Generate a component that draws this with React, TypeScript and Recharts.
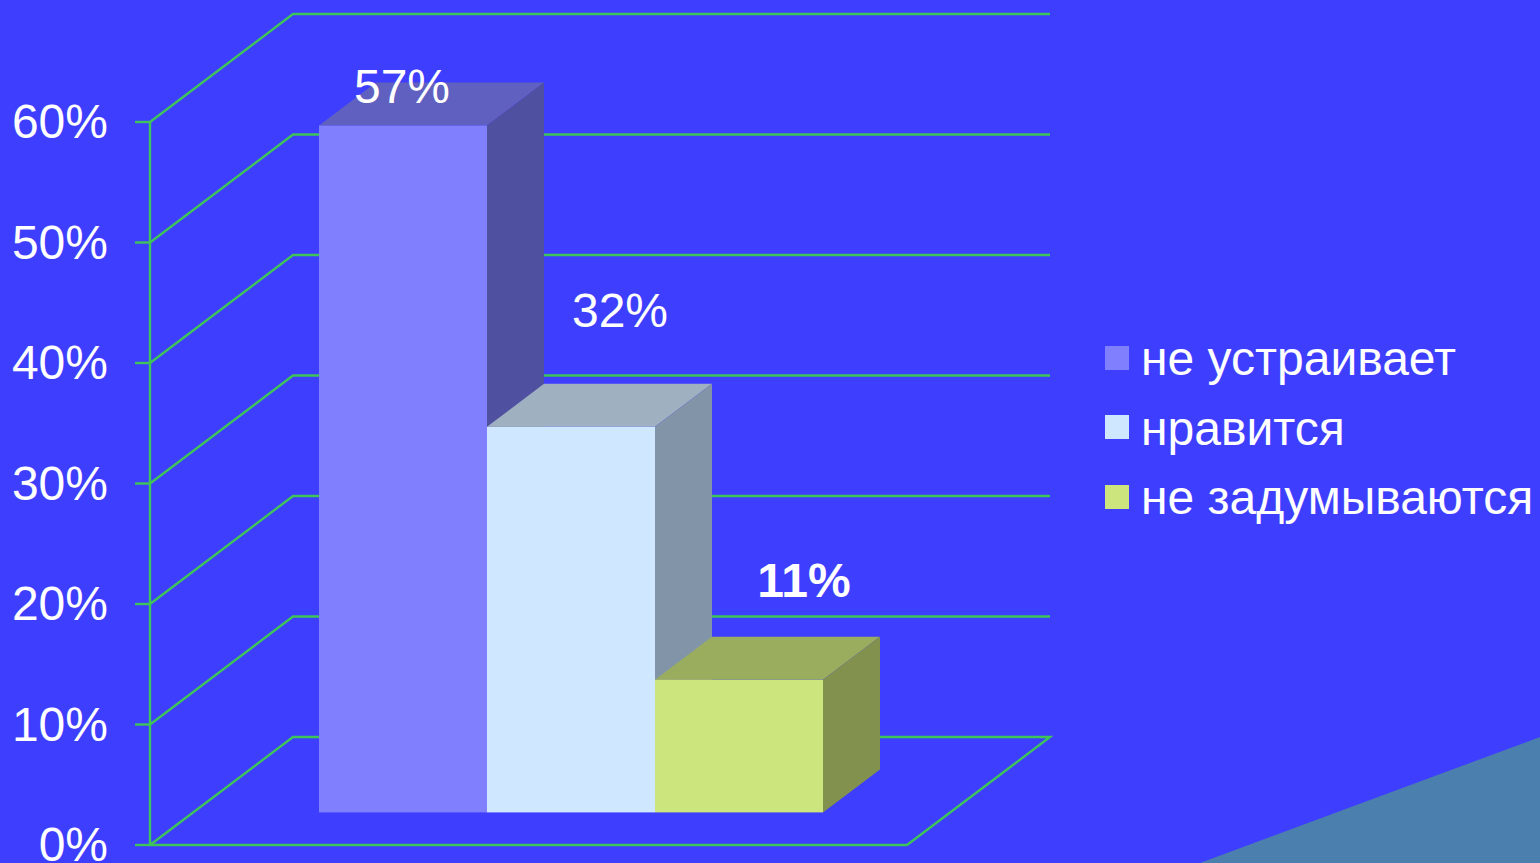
import React from 'react';
import { BarChart, Bar, XAxis, YAxis, CartesianGrid, Legend, LabelList } from 'recharts';

const WIDTH = 1540;
const HEIGHT = 863;
const MARGIN = { top: 122, right: 633, bottom: 17, left: 0 };
const X_AXIS_HEIGHT = 1;
const PLOT_BOTTOM = HEIGHT - MARGIN.bottom - X_AXIS_HEIGHT;

const categories = ['Отношение'];
const notSatisfied = [57];
const likes = [32];
const notThinking = [11];
const yTicks = [0, 10, 20, 30, 40, 50, 60];

const data = categories.map((name, i) => ({
    name,
    notSatisfied: notSatisfied[i],
    likes: likes[i],
    notThinking: notThinking[i],
}));

const FONT = '"Liberation Sans", Arial, sans-serif';
const GRID_COLOR = '#3fc45a';
const GRID_WIDTH = 2.4;

// depth of the chart box, and where a bar stands inside it
const WALL_DX = 143;
const WALL_DY = -108;
const BAR_DX = 43;
const BAR_DY = -32.6;
const BAR_DEPTH_X = 57;
const BAR_DEPTH_Y = -43;

const Box3D = (props: any) => {
    const { x, y, width, height, fill, topFill, sideFill } = props;
    const left = x + BAR_DX;
    const right = left + width;
    const top = y + BAR_DY;
    const bottom = top + height;
    const bx = BAR_DEPTH_X;
    const by = BAR_DEPTH_Y;
    return (
        <g>
            <polygon points={`${left},${top} ${right},${top} ${right + bx},${top + by} ${left + bx},${top + by}`} fill={topFill} />
            <polygon points={`${right},${top} ${right + bx},${top + by} ${right + bx},${bottom + by} ${right},${bottom}`} fill={sideFill} />
            <rect x={left} y={top} width={width} height={height} fill={fill} />
        </g>
    );
};

// value labels sit freely above the boxes, each with its own offset
const valueLabel = (offsetX: number, offsetY: number, bold = false) => (props: any) => {
    const { x, y, width, value } = props;
    return (
        <text
            x={x + BAR_DX + width / 2 + offsetX}
            y={y + BAR_DY + offsetY}
            fill="#ffffff"
            fontFamily={FONT}
            fontSize={48}
            fontWeight={bold ? 700 : 400}
            textAnchor="middle"
            dominantBaseline="central"
        >
            {value}%
        </text>
    );
};

// each horizontal gridline runs up the side wall and then along the back wall;
// the lowest one also closes the floor on the right
const wallLine = (props: any) => {
    const { x1, x2, y1 } = props;
    const isFloor = y1 >= PLOT_BOTTOM - 1;
    const backY = y1 + WALL_DY;
    return (
        <path
            key={`wall-${y1}`}
            d={
                `M${x1},${y1} L${x1 + WALL_DX},${backY} L${x2 + WALL_DX},${backY}` +
                (isFloor ? ` L${x2},${y1}` : '')
            }
            fill="none"
            stroke={GRID_COLOR}
            strokeWidth={GRID_WIDTH}
        />
    );
};

const LegendList = ({ payload }: any) => (
    <div>
        {(payload || []).map((entry: any) => (
            <div key={entry.value} style={{ display: 'flex', alignItems: 'center', height: 69.5 }}>
                <span style={{ width: 24, height: 24, marginRight: 12, background: entry.color, display: 'block' }} />
                <span style={{ color: '#ffffff', fontFamily: FONT, fontSize: 48, whiteSpace: 'nowrap', position: 'relative', top: 1 }}>
                    {entry.value}
                </span>
            </div>
        ))}
    </div>
);

export default function App() {
    return (
        <div style={{ position: 'absolute', left: 0, top: 0, width: WIDTH, height: HEIGHT, overflow: 'hidden', background: '#3e3eff' }}>
            <div
                style={{
                    position: 'absolute',
                    inset: 0,
                    background: '#4a7fae',
                    clipPath: 'polygon(1200px 863px, 1540px 737px, 1540px 863px)',
                }}
            />
            <BarChart
                width={WIDTH}
                height={HEIGHT}
                data={data}
                margin={MARGIN}
                barCategoryGap={126}
                barGap={0}
                style={{ position: 'absolute', left: 0, top: 0 }}
            >
                <CartesianGrid vertical={false} horizontal={wallLine} stroke={GRID_COLOR} />
                <XAxis
                    dataKey="name"
                    height={X_AXIS_HEIGHT}
                    tick={false}
                    tickLine={false}
                    axisLine={{ stroke: GRID_COLOR, strokeWidth: GRID_WIDTH }}
                />
                <YAxis
                    width={150}
                    domain={[0, 60]}
                    ticks={yTicks}
                    interval={0}
                    tickFormatter={(v) => `${v}%`}
                    tickSize={15}
                    tickMargin={27}
                    axisLine={{ stroke: GRID_COLOR, strokeWidth: GRID_WIDTH }}
                    tickLine={{ stroke: GRID_COLOR, strokeWidth: GRID_WIDTH }}
                    tick={{ fill: '#ffffff', fontFamily: FONT, fontSize: 48, dy: -1 }}
                />
                <Legend
                    layout="vertical"
                    align="center"
                    verticalAlign="middle"
                    itemSorter={null}
                    content={<LegendList />}
                    wrapperStyle={{ position: 'absolute', left: 1105, top: 323, width: 435 }}
                />
                <Bar
                    dataKey="notSatisfied"
                    name="не устраивает"
                    fill="#8080ff"
                    isAnimationActive={false}
                    shape={<Box3D topFill="#6060c0" sideFill="#5050a0" />}
                >
                    <LabelList dataKey="notSatisfied" content={valueLabel(-1, -39)} />
                </Bar>
                <Bar
                    dataKey="likes"
                    name="нравится"
                    fill="#cfe7ff"
                    isAnimationActive={false}
                    shape={<Box3D topFill="#9fb0c1" sideFill="#8295a8" />}
                >
                    <LabelList dataKey="likes" content={valueLabel(49, -116)} />
                </Bar>
                <Bar
                    dataKey="notThinking"
                    name="не задумываются"
                    fill="#cce57d"
                    isAnimationActive={false}
                    shape={<Box3D topFill="#9aad5e" sideFill="#82924e" />}
                >
                    <LabelList dataKey="notThinking" content={valueLabel(65, -99, true)} />
                </Bar>
            </BarChart>
        </div>
    );
}
